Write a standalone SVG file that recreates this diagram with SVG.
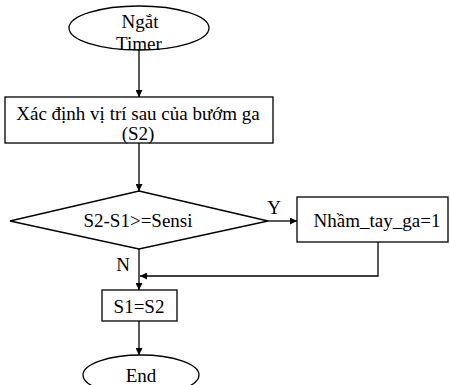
<svg xmlns="http://www.w3.org/2000/svg" width="450" height="385" viewBox="0 0 450 385">
<style>
.s{fill:#fff;stroke:#000;stroke-width:1.3}
.t{font-family:"Liberation Serif","Times New Roman",serif;font-size:19px;fill:#000;text-anchor:middle}
.c{fill:none;stroke:#000;stroke-width:1.3}
</style>
<defs>
<marker id="a" viewBox="0 0 10 10" refX="10" refY="5" markerWidth="7" markerHeight="7" markerUnits="userSpaceOnUse" orient="auto">
<path d="M0,0 L10,5 L0,10 z" fill="#000"/>
</marker>
</defs>
<g id="connectors">
<line class="c" x1="139" y1="50" x2="139" y2="97" marker-end="url(#a)"/>
<line class="c" x1="139" y1="143" x2="139" y2="191" marker-end="url(#a)"/>
<line class="c" x1="268" y1="221" x2="297" y2="221" marker-end="url(#a)"/>
<polyline class="c" points="378,242 378,276 140,276" marker-end="url(#a)"/>
<line class="c" x1="139" y1="249" x2="139" y2="290" marker-end="url(#a)"/>
<line class="c" x1="139" y1="321" x2="139" y2="355" marker-end="url(#a)"/>
<text class="t" x="274" y="214">Y</text>
<text class="t" x="123" y="271">N</text>
</g>
<g id="start">
<ellipse class="s" cx="139" cy="28" rx="70" ry="22"/>
<text class="t" x="140" y="28">Ngắt</text>
<text class="t" x="139" y="50">Timer</text>
</g>
<g id="s2">
<rect class="s" x="5" y="97" width="268" height="46"/>
<text class="t" x="138" y="120">Xác định vị trí sau của bướm ga</text>
<text class="t" x="138" y="140">(S2)</text>
</g>
<g id="decision">
<polygon class="s" points="139,191 268,221 139,249 10,221"/>
<text class="t" x="138" y="227">S2-S1&gt;=Sensi</text>
</g>
<g id="nham">
<rect class="s" x="297" y="197" width="151" height="45"/>
<text class="t" x="377" y="227">Nhầm_tay_ga=1</text>
</g>
<g id="s1">
<rect class="s" x="102" y="290" width="75" height="31"/>
<text class="t" x="139" y="313">S1=S2</text>
</g>
<g id="end">
<ellipse class="s" cx="141" cy="375" rx="58" ry="20"/>
<text class="t" x="141" y="382">End</text>
</g>
</svg>
